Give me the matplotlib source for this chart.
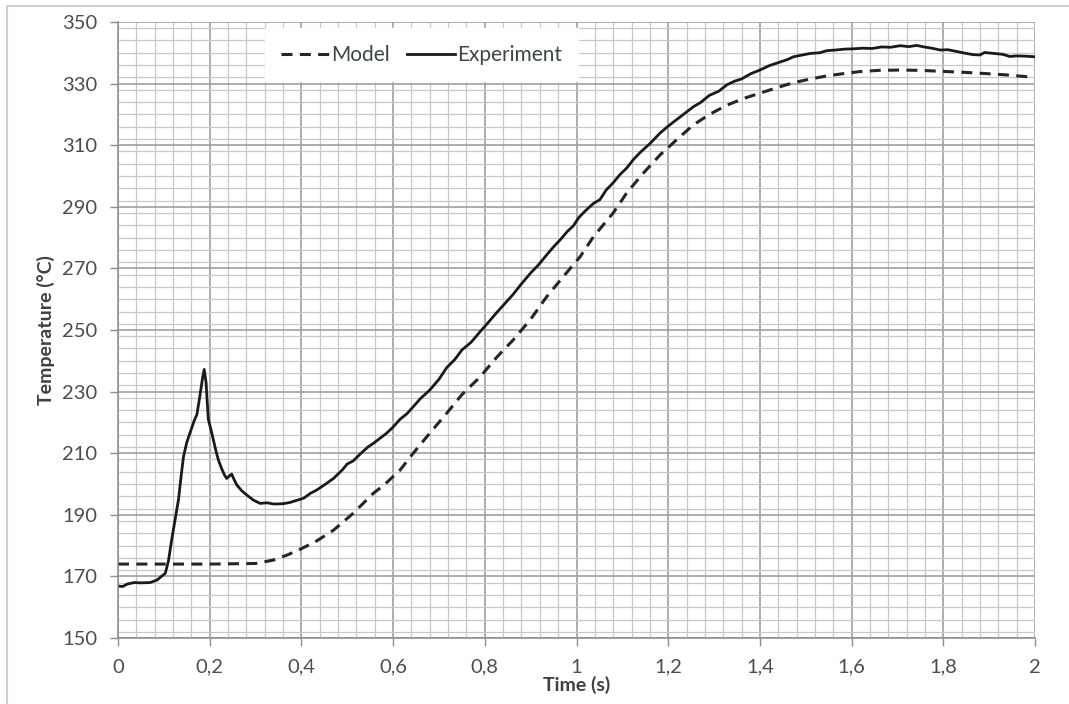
import matplotlib
matplotlib.use("Agg")
import matplotlib.pyplot as plt
from matplotlib.ticker import MultipleLocator
from matplotlib.lines import Line2D

t_exp = [0.000, 0.010, 0.020, 0.035, 0.050, 0.070, 0.085, 0.095, 0.103, 0.110,
         0.117, 0.124, 0.132, 0.138, 0.143, 0.150, 0.158, 0.166, 0.172, 0.178,
         0.184, 0.188, 0.192, 0.197, 0.203, 0.208, 0.214, 0.219, 0.226, 0.232,
         0.237, 0.242, 0.248, 0.253, 0.259, 0.270, 0.281, 0.295, 0.310, 0.325,
         0.340, 0.360, 0.375, 0.390, 0.405, 0.420, 0.433, 0.450, 0.470, 0.490,
         0.500, 0.513, 0.530, 0.545, 0.557, 0.571, 0.586, 0.600, 0.615, 0.630,
         0.644, 0.660, 0.680, 0.700, 0.717, 0.735, 0.750, 0.770, 0.790, 0.805,
         0.825, 0.845, 0.862, 0.880, 0.900, 0.918, 0.935, 0.950, 0.964, 0.980,
         0.993, 1.005, 1.020, 1.037, 1.051, 1.065, 1.080, 1.095, 1.109, 1.125,
         1.140, 1.160, 1.182, 1.200, 1.220, 1.240, 1.255, 1.270, 1.290, 1.310,
         1.328, 1.345, 1.360, 1.380, 1.400, 1.420, 1.440, 1.460, 1.473, 1.490,
         1.510, 1.530, 1.546, 1.565, 1.585, 1.604, 1.625, 1.645, 1.665, 1.685,
         1.706, 1.725, 1.742, 1.758, 1.775, 1.793, 1.810, 1.830, 1.850, 1.865,
         1.880, 1.890, 1.910, 1.930, 1.945, 1.960, 1.980, 2.000]
T_exp = [166.9, 166.7, 167.5, 168.0, 167.9, 168.0, 168.8, 170.0, 171.0, 175.0,
         181.8, 188.0, 195.0, 203.0, 209.0, 213.5, 217.0, 220.5, 222.5, 228.0,
         234.0, 237.2, 233.0, 221.0, 217.5, 214.3, 210.5, 207.8, 205.0, 203.0,
         201.8, 202.5, 203.2, 201.5, 199.7, 197.8, 196.4, 194.8, 193.7, 193.9,
         193.5, 193.6, 194.0, 194.7, 195.4, 197.0, 198.0, 199.7, 201.8, 204.7,
         206.5, 207.5, 210.0, 212.0, 213.2, 214.8, 216.5, 218.5, 221.0, 222.8,
         225.1, 227.8, 230.5, 234.0, 237.8, 240.5, 243.5, 246.0, 249.5, 252.0,
         255.5, 258.8, 261.6, 265.0, 268.5, 271.3, 274.4, 277.0, 279.2, 282.0,
         283.8, 286.5, 288.8, 291.1, 292.3, 295.5, 297.8, 300.5, 302.5, 305.5,
         307.8, 310.5, 313.9, 316.2, 318.5, 320.8, 322.5, 323.8, 326.2, 327.5,
         329.6, 330.8, 331.5, 333.2, 334.4, 335.8, 336.8, 337.8, 338.7, 339.2,
         339.8, 340.0, 340.7, 340.9, 341.2, 341.3, 341.5, 341.4, 341.9, 341.8,
         342.3, 342.0, 342.4, 341.9, 341.5, 340.9, 341.0, 340.4, 339.8, 339.4,
         339.3, 340.1, 339.8, 339.5, 338.8, 339.0, 338.9, 338.7]

t_model = [0.000, 0.100, 0.200, 0.300, 0.339, 0.370, 0.397, 0.430, 0.470, 0.513,
           0.557, 0.579, 0.615, 0.644, 0.680, 0.717, 0.750, 0.790, 0.825, 0.862,
           0.900, 0.935, 0.971, 1.008, 1.037, 1.080, 1.109, 1.145, 1.182, 1.220,
           1.255, 1.290, 1.328, 1.365, 1.400, 1.440, 1.473, 1.510, 1.546, 1.580,
           1.618, 1.660, 1.706, 1.750, 1.793, 1.840, 1.887, 1.940, 1.985]
T_model = [174.0, 174.0, 174.0, 174.2, 175.3, 177.0, 178.8, 181.2, 185.0, 190.5,
           197.0, 199.5, 204.5, 210.0, 216.5, 223.0, 229.0, 234.8, 241.0, 246.8,
           253.5, 260.8, 267.3, 273.8, 280.3, 288.0, 294.4, 300.8, 306.8, 312.0,
           316.6, 320.0, 323.0, 325.2, 326.9, 328.8, 330.3, 331.5, 332.5, 333.2,
           333.9, 334.3, 334.4, 334.3, 334.0, 333.7, 333.3, 332.8, 332.2]

x_ticks = [0, 0.2, 0.4, 0.6, 0.8, 1.0, 1.2, 1.4, 1.6, 1.8, 2.0]
x_tick_labels = ["0", "0,2", "0,4", "0,6", "0,8", "1", "1,2", "1,4", "1,6", "1,8", "2"]
y_ticks = [150, 170, 190, 210, 230, 250, 270, 290, 310, 330, 350]

plt.rcParams['font.family'] = ['Lato', 'DejaVu Sans']

fig = plt.figure(figsize=(10.69, 7.04), dpi=100)
ax = fig.add_axes([118/1069, 66/704, 917/1069, 616/704])

ax.plot(t_model, T_model, color='#262626', lw=2.2, dashes=(3.6, 2.4), label='Model')
ax.plot(t_exp, T_exp, color='#1a1a1a', lw=2.0, label='Experiment')

ax.set_xlim(0, 2)
ax.set_ylim(150, 350)
ax.set_xticks(x_ticks)
ax.set_xticklabels(x_tick_labels)
ax.set_yticks(y_ticks)
ax.xaxis.set_minor_locator(MultipleLocator(0.04))
ax.yaxis.set_minor_locator(MultipleLocator(4))

ax.grid(which='major', color='#a0a0a0', lw=1.2)
ax.grid(which='minor', color='#c8c8c8', lw=0.9)
ax.set_axisbelow(True)

for s in ['top', 'right']:
    ax.spines[s].set_visible(False)
for s in ['left', 'bottom']:
    ax.spines[s].set_color('#8c8c8c')
    ax.spines[s].set_linewidth(1.1)

ax.tick_params(which='major', direction='out', length=6, width=1.0, color='#8c8c8c',
               labelsize=14.5, labelcolor='#4d4d4d', pad=9)
ax.tick_params(which='minor', length=0)

ax.set_xlabel('Time (s)', fontsize=14, fontweight='bold', color='#404040', labelpad=0)
ax.set_ylabel('Temperature (°C)', fontsize=14, fontweight='bold', color='#404040', labelpad=5)

leg = ax.legend(loc='upper left', bbox_to_anchor=(0.16, 0.99), ncol=2, frameon=True,
                fancybox=False, facecolor='white', edgecolor='white', framealpha=1,
                fontsize=15, handlelength=2.3, handletextpad=0.1, columnspacing=0.8,
                borderpad=0.8, borderaxespad=0)
for txt in leg.get_texts():
    txt.set_color('#3c4646')

# outer chart border
fig.add_artist(Line2D([7/1069, 7/1069], [0, 1 - 6/704], color='#cfcfcf', lw=1.5,
                      transform=fig.transFigure))
fig.add_artist(Line2D([7/1069, 1], [1 - 6/704, 1 - 6/704], color='#cfcfcf', lw=1.5,
                      transform=fig.transFigure))

fig.savefig('out.png', dpi=100)
